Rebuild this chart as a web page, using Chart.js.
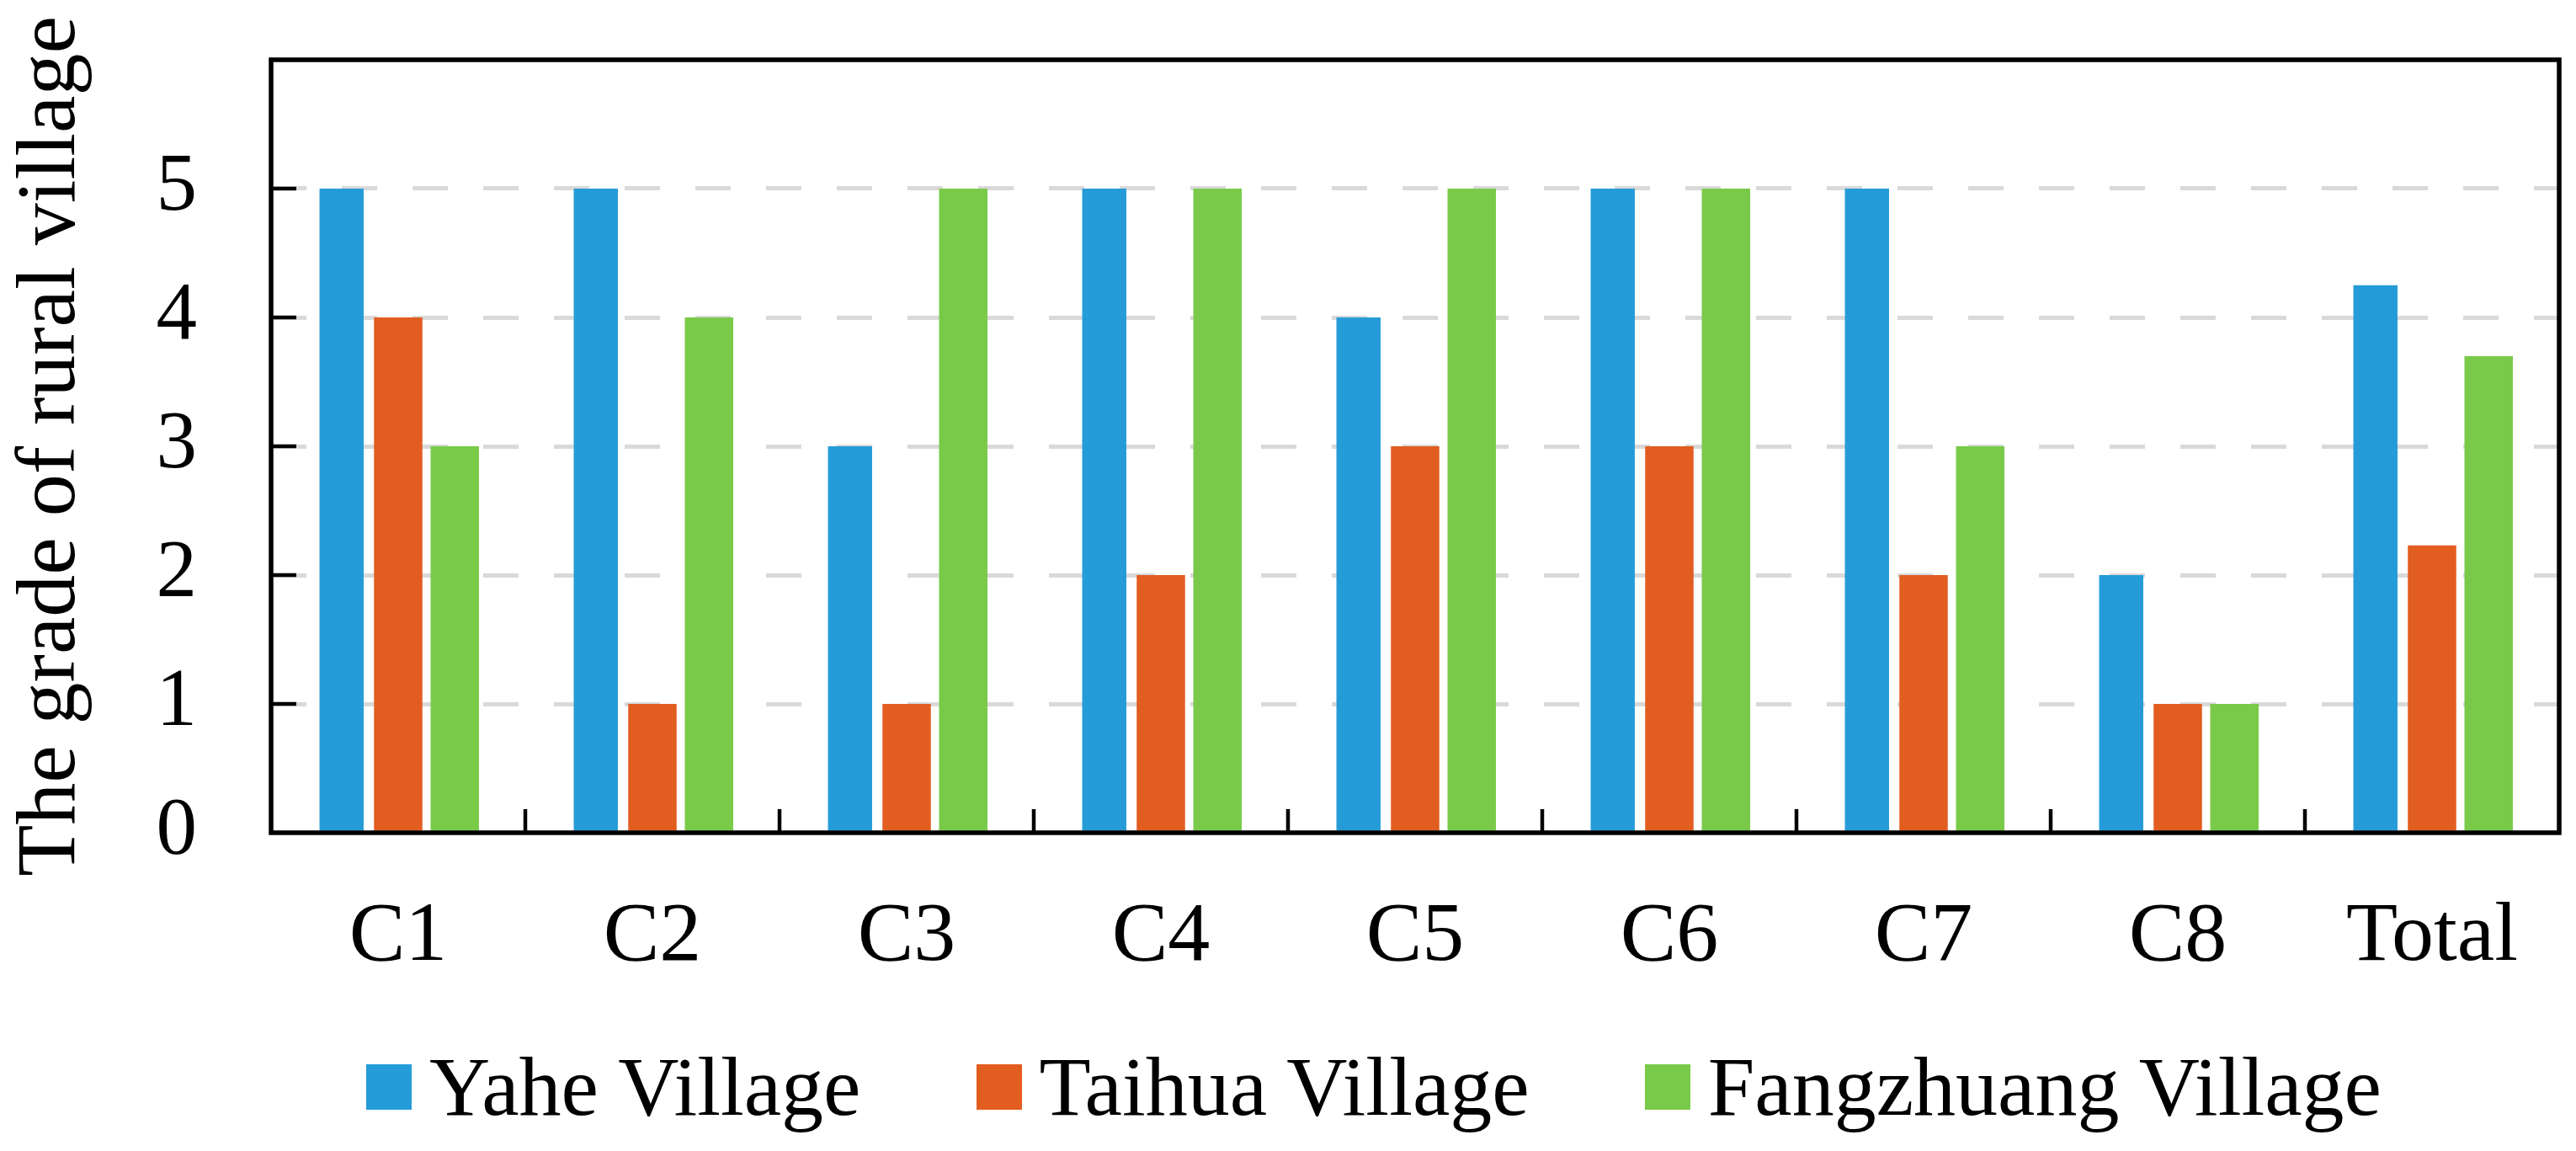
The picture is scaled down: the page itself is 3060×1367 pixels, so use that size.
<!DOCTYPE html>
<html>
<head>
<meta charset="utf-8">
<title>The grade of rural village</title>
<script src="https://cdn.jsdelivr.net/npm/chart.js@4.4.1/dist/chart.umd.min.js"></script>
<style>
	html, body { margin: 0; padding: 0; background: #fff; }
	#quadro { position: relative; width: 3060px; height: 1367px; }
	#graficoNotas { position: absolute; left: 0; top: 0; }
	#legenda {
		position: absolute; left: 435px; top: 1241px; height: 100px;
		display: flex; align-items: center;
		font-family: 'Liberation Serif', 'Times New Roman', serif;
		font-size: 100px; line-height: 100px; color: #000; white-space: nowrap;
	}
	#legenda .item { display: flex; align-items: center; margin-right: 137px; }
	#legenda .item:last-child { margin-right: 0; }
	#legenda .caixa { width: 54px; height: 54px; margin-right: 21px; }
</style>
</head>
<body>
<div id="quadro">
	<canvas id="graficoNotas" width="3060" height="1367"></canvas>
	<div id="legenda"></div>
</div>
<script>
/* Dados do gráfico */
var categorias = ['C1', 'C2', 'C3', 'C4', 'C5', 'C6', 'C7', 'C8', 'Total'];
var nomesSeries = ['Yahe Village', 'Taihua Village', 'Fangzhuang Village'];
var notasYahe = [5, 5, 3, 5, 4, 5, 5, 2, 4.25];
var notasTaihua = [4, 1, 1, 2, 3, 3, 2, 1, 2.23];
var notasFangzhuang = [3, 4, 5, 5, 5, 5, 3, 1, 3.7];
var ticksY = [0, 1, 2, 3, 4, 5];
var tituloY = 'The grade of rural village';

var cores = ['#259cd8', '#e25d20', '#7aca49'];
var fonteSerif = "'Liberation Serif', 'Times New Roman', serif";

var Graficos = Graficos || {};

/* moldura do gráfico + marcas de escala para dentro */
Graficos.moldura = {
	id: 'moldura',
	afterDatasetsDraw: function(chart) {
		var ctx = chart.ctx;
		var area = chart.chartArea;
		var x = chart.scales.x;
		var y = chart.scales.y;
		ctx.save();
		ctx.strokeStyle = '#000';
		ctx.lineWidth = 4.5;
		ticksY.forEach(function(v) {
			if (v === 0) return;
			var py = y.getPixelForValue(v);
			ctx.beginPath();
			ctx.moveTo(area.left, py);
			ctx.lineTo(area.left + 30, py);
			ctx.stroke();
		});
		for (var i = 0; i < categorias.length - 1; i++) {
			var px = (x.getPixelForValue(i) + x.getPixelForValue(i + 1)) / 2;
			ctx.beginPath();
			ctx.moveTo(px, area.bottom);
			ctx.lineTo(px, area.bottom - 28);
			ctx.stroke();
		}
		ctx.lineWidth = 5.5;
		ctx.strokeRect(area.left, area.top, area.right - area.left, area.bottom - area.top);
		ctx.restore();
	}
};

Graficos.NotasPorVila = (function() {

	function NotasPorVila() {
		this.ctx = document.getElementById('graficoNotas').getContext('2d');
	}

	NotasPorVila.prototype.iniciar = function() {
		var valores = [notasYahe, notasTaihua, notasFangzhuang];
		var largura = [0.78, 0.855, 0.855];
		var datasets = nomesSeries.map(function(nome, i) {
			return {
				label: nome,
				data: valores[i],
				backgroundColor: cores[i],
				borderWidth: 0,
				categoryPercentage: 0.668,
				barPercentage: largura[i]
			};
		});

		new Chart(this.ctx, {
			type: 'bar',
			data: {
				labels: categorias,
				datasets: datasets
			},
			options: {
				responsive: false,
				devicePixelRatio: 1,
				animation: false,
				layout: { padding: { top: 71, right: 20, left: 0, bottom: 0 } },
				plugins: {
					legend: { display: false },
					tooltip: { enabled: false }
				},
				scales: {
					x: {
						grid: { display: false },
						border: { display: false },
						ticks: {
							color: '#000',
							padding: 57,
							maxRotation: 0,
							font: { family: fonteSerif, size: 100 }
						},
						afterFit: function(scale) { scale.height = 378; }
					},
					y: {
						min: 0,
						max: 6,
						afterBuildTicks: function(scale) {
							scale.ticks = scale.ticks.filter(function(t) { return ticksY.indexOf(t.value) >= 0; });
						},
						grid: {
							drawTicks: true,
							tickLength: 88,
							tickColor: 'rgba(0,0,0,0)',
							lineWidth: 5,
							color: function(c) {
								var v = c.tick ? c.tick.value : 0;
								return (v >= 1 && v <= 5) ? '#d9d9d9' : 'rgba(0,0,0,0)';
							}
						},
						border: { display: false, dash: [42, 42] },
						ticks: {
							stepSize: 1,
							color: '#000',
							padding: 0,
							font: { family: fonteSerif, size: 97 }
						},
						title: {
							display: true,
							text: tituloY,
							color: '#000',
							padding: { top: 2, bottom: 0 },
							font: { family: fonteSerif, size: 100 }
						},
						afterFit: function(scale) { scale.width = 322; }
					}
				}
			},
			plugins: [Graficos.moldura]
		});
	};

	return NotasPorVila;

}());

/* legenda em HTML, para acertar o espaço entre caixa e texto */
function montarLegenda() {
	var legenda = document.getElementById('legenda');
	nomesSeries.forEach(function(nome, i) {
		var item = document.createElement('div');
		item.className = 'item';
		var caixa = document.createElement('span');
		caixa.className = 'caixa';
		caixa.style.background = cores[i];
		var texto = document.createElement('span');
		texto.textContent = nome;
		item.appendChild(caixa);
		item.appendChild(texto);
		legenda.appendChild(item);
	});
}

montarLegenda();
var graficoNotas = new Graficos.NotasPorVila();
graficoNotas.iniciar();
</script>
</body>
</html>
